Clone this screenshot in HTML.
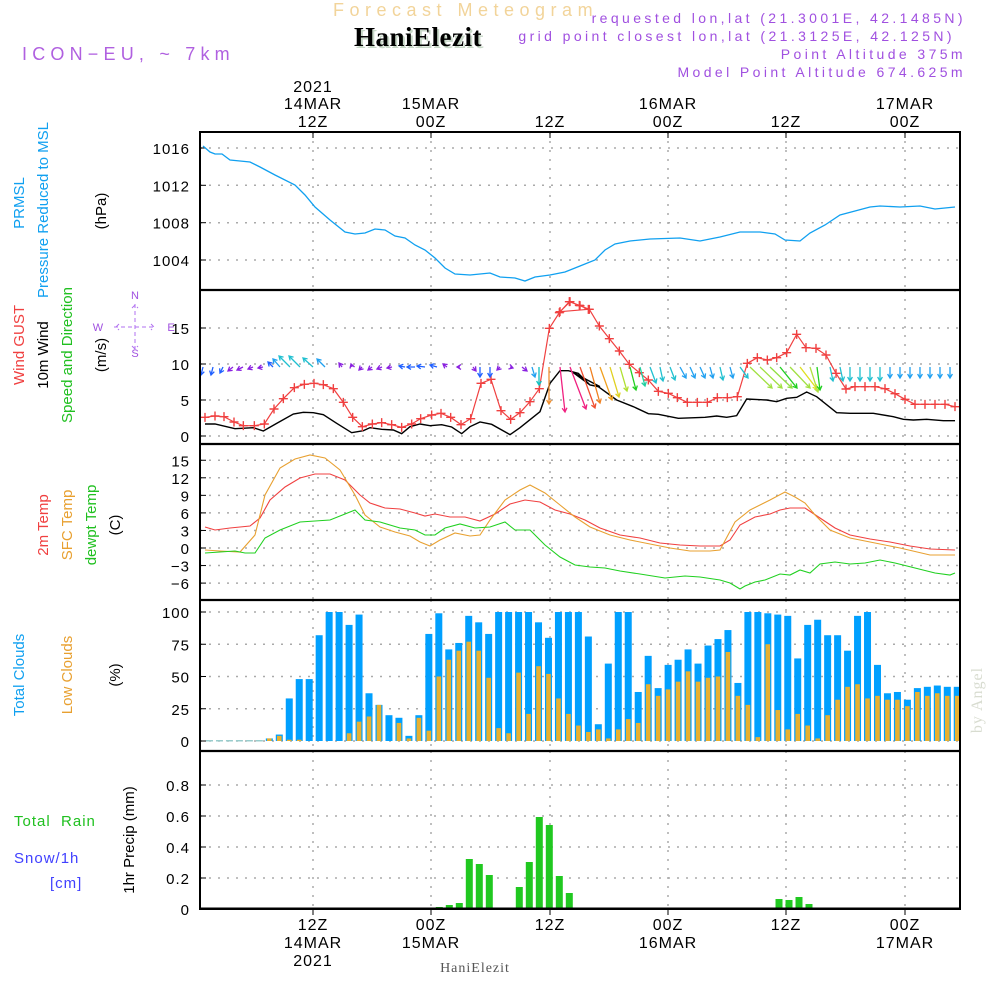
<!DOCTYPE html>
<html><head><meta charset="utf-8"><style>
html,body{margin:0;padding:0;background:#fff;}
svg{display:block;font-family:"Liberation Sans",sans-serif;}
</style></head><body>
<svg id="s" width="1000" height="1000" xmlns="http://www.w3.org/2000/svg">
<text x="333" y="16" fill="#f2d49a" font-size="18" letter-spacing="5.5">Forecast Meteogram</text>
<text x="356" y="48" fill="#c8d8c8" font-size="27" font-weight="bold" font-family="Liberation Serif,serif" letter-spacing="0.5">HaniElezit</text>
<text x="354" y="46" fill="#000" font-size="27" font-weight="bold" font-family="Liberation Serif,serif" letter-spacing="0.5">HaniElezit</text>
<text x="22" y="60" fill="#b060e0" font-size="18" letter-spacing="5.2">ICON−EU, ~ 7km</text>
<g fill="#a050e0" font-size="14" letter-spacing="3.4" text-anchor="end">
<text x="966" y="23">requested lon,lat (21.3001E, 42.1485N)</text>
<text x="955" y="41">grid point closest lon,lat (21.3125E, 42.125N)</text>
<text x="966" y="59">Point Altitude 375m</text>
<text x="966" y="77">Model Point Altitude 674.625m</text>
</g>
<g id="g"></g>
</svg>
<script>
var g=document.getElementById('g'),h='';
function L(pts,c,w,extra){h+='<polyline fill="none" stroke="'+c+'" stroke-width="'+(w||1.2)+'" '+(extra||'')+' points="'+pts.map(function(p){return p[0]+','+p[1]}).join(' ')+'"/>';}
function T(x,y,t,c,s,a,ex){h+='<text x="'+x+'" y="'+y+'" fill="'+(c||'#000')+'" font-size="'+(s||15)+'" text-anchor="'+(a||'middle')+'" '+(ex||'')+'>'+t+'</text>';}
function R(x,y,w,hh,c){h+='<rect x="'+x+'" y="'+y+'" width="'+w+'" height="'+hh+'" fill="'+c+'"/>';}
var VX=[313,431,550,668,786,905];
var panels=[[132,290],[290,444],[444,600],[600,751],[751,909]];
var dot='stroke="#aaa" stroke-width="1.5" stroke-dasharray="2,7"';
panels.forEach(function(p){VX.forEach(function(x){h+='<line x1="'+x+'" y1="'+p[0]+'" x2="'+x+'" y2="'+p[1]+'" '+dot+'/>';});});
function HG(y,lab){h+='<line x1="200" y1="'+y+'" x2="960" y2="'+y+'" '+dot+'/>';T(190,y+6,lab,'#000',15,'end','letter-spacing="1"');h+='<line x1="200" y1="'+y+'" x2="206" y2="'+y+'" stroke="#000"/>';}
[[1004,260],[1008,222.7],[1012,185.3],[1016,148]].forEach(function(a){HG(a[1],a[0]);});
[0,5,10,15].forEach(function(v){HG(436-7.2*v,v);});
[15,12,9,6,3,0,-3,-6].forEach(function(v){HG(548-5.85*v,v<0?'−'+(-v):v);});
[0,25,50,75,100].forEach(function(v){HG(741-1.29*v,v);});
[0,0.2,0.4,0.6,0.8].forEach(function(v){HG(909-155*v,v==0?'0':v.toFixed(1));});
L([[203,146],[210,152],[215,154],[222,154],[230,160],[240,161],[250,162],[260,167],[275,175],[295,185],[305,195],[315,207],[330,220],[345,232],[355,234],[365,233],[375,229],[385,230],[395,236],[405,238],[415,245],[425,250],[435,258],[445,268],[455,274],[470,275],[490,273],[500,277],[515,278],[525,281],[535,277],[550,275],[565,272],[580,266],[595,260],[605,250],[615,244],[630,241],[650,239],[680,238],[700,241],[720,237],[740,232],[760,232],[775,234],[785,240],[800,241],[810,233],[825,225],[840,215],[855,211],[870,207],[880,206],[900,207],[920,206],[935,209],[945,208],[955,207]],'#10a0f0',1.3);
var b1=[[15,402],[45,402],[105,416],[160,413],[190,423],[230,400],[280,372],[310,367],[340,368],[370,374],[410,400],[455,428],[490,422],[510,413],[545,418],[580,420],[605,431],[630,410],[660,402],[690,407],[725,404],[755,411],[785,431],[810,410],[840,396],[875,403],[930,434],[960,413],[990,389],[1020,365],[1050,280],[1080,242],[1105,242],[1135,250],[1170,285],[1200,290]].map(function(p){return[200+p[0]/3,290+p[1]/3]});
var b2=[[40,248],[70,270],[90,285],[115,290],[170,330],[220,350],[265,371],[295,373],[355,385],[435,382],[470,378],[500,382],[530,377],[560,327],[620,330],[650,335],[680,325],[710,322],[740,306],[770,320],[830,368],[870,370],[940,370],[1000,380],[1030,388],[1060,390],[1100,388],[1150,392],[1185,392]].map(function(p){return[560+p[0]/3,290+p[1]/3]});
L(b1.concat(b2),'#000',1.4);
var g1=[[15,382],[45,378],[72,380],[102,396],[130,407],[163,407],[193,402],[222,357],[250,326],[283,293],[313,283],[342,280],[370,284],[400,296],[430,337],[458,382],[487,410],[517,402],[545,398],[575,404],[605,412],[635,402],[662,386],[695,375],[723,370],[752,382],[783,404],[812,386],[843,280],[873,268],[903,362],[932,388],[960,368],[990,335],[1018,296],[1048,115],[1078,68],[1108,35],[1138,46],[1165,58]].map(function(p){return[200+p[0]/3,290+p[1]/3]});
var g2=[[0,65],[30,35],[60,47],[88,58],[118,108],[148,146],[178,183],[208,223],[238,248],[265,270],[295,304],[325,310],[352,323],[382,337],[412,337],[442,337],[472,323],[502,323],[532,320],[562,220],[592,203],[622,210],[650,203],[680,188],[710,133],[738,173],[768,175],[798,195],[828,250],[858,297],[885,290],[915,290],[945,290],[975,296],[1005,311],[1035,328],[1065,343],[1095,343],[1125,343],[1155,343],[1185,350]].map(function(p){return[560+p[0]/3,290+p[1]/3]});
var gp=g1.concat(g2);L(gp,'#f04040',1.2);
gp.forEach(function(p){h+='<path d="M'+(p[0]-4.5)+','+p[1]+'h9M'+p[0]+','+(p[1]-4.5)+'v9" stroke="#f04040" stroke-width="1.4"/>';});
var B='#2060ff',P='#8a20e0',TL='#20c0d0',CB='#20a0f0';
var A=[[203,-2,8,B],[213,-2,8,B],[223,-3,6,B],[233,-5,4,P],[243,-6,3,P],[253,-5,2,P],[263,-5,1,P],[273,-5,-5,B],[280,-7,-8,CB],[290,-11,-11,TL],[300,-11,-11,TL],[313,-10,-9,TL],[325,-8,-8,CB],[342,-3,-4,P],[352,-1,-3,P],[362,-3,3,P],[372,-4,3,P],[382,-5,2,P],[392,-5,1,P],[405,-6,-1,B],[415,-8,0,B],[425,-8,-1,B],[437,-7,-2,B],[447,-4,-3,P],[460,-3,0,P],[473,3,4,P],[480,0,10,B],[490,0,10,B],[500,-3,3,P],[510,3,1,P],[522,5,4,P],[532,3,10,CB],[539,0,18,'#10c0c0'],[549,0,37,'#f09030'],[560,5,45,'#f02080'],[570,16,42,'#f02080'],[580,15,41,'#f05030'],[590,10,36,'#f08020'],[600,12,33,'#f0a020'],[610,9,30,'#e0d020'],[620,7,24,'#b0e030'],[630,6,23,'#20d020'],[640,5,19,'#20d0a0'],[650,6,16,TL],[660,3,14,TL],[670,5,13,TL],[680,6,11,CB],[690,5,11,CB],[700,5,11,CB],[710,3,11,CB],[720,3,13,TL],[730,3,11,CB],[740,8,11,TL],[750,22,21,'#a0e040'],[760,22,21,'#a0e040'],[770,22,21,'#90e040'],[780,17,21,'#20d020'],[790,20,21,'#a0e040'],[800,17,22,'#e0e020'],[810,8,25,'#b0e040'],[817,3,23,'#20d020'],[830,3,14,TL],[840,3,14,TL],[850,0,14,TL],[860,0,14,TL],[870,0,14,TL],[880,0,14,TL],[890,0,11,CB],[900,0,11,CB],[910,0,11,CB],[920,0,11,CB],[930,0,11,CB],[940,0,11,CB],[950,0,11,CB]];
A.forEach(function(a){var x0=a[0],y0=367,x1=x0+a[1],y1=y0+a[2],L2=Math.hypot(a[1],a[2])||1,ux=a[1]/L2,uy=a[2]/L2,s=4;
var hx1=x1-s*ux+s*0.6*uy,hy1=y1-s*uy-s*0.6*ux,hx2=x1-s*ux-s*0.6*uy,hy2=y1-s*uy+s*0.6*ux;
h+='<path d="M'+x0+','+y0+'L'+x1+','+y1+'M'+hx1+','+hy1+'L'+x1+','+y1+'L'+hx2+','+hy2+'" fill="none" stroke="'+a[3]+'" stroke-width="1.3"/>';});
L([[205,527],[215,530],[230,528],[250,526],[260,518],[270,500],[285,487],[300,478],[315,474],[330,474],[345,480],[360,495],[370,503],[385,508],[400,509],[415,513],[425,516],[435,514],[450,517],[465,517],[480,521],[495,514],[510,504],[525,500],[540,502],[555,510],[570,514],[585,520],[600,528],[620,535],[640,538],[660,543],[680,545],[700,546],[720,546],[730,540],[740,525],[755,517],[770,514],[780,510],[790,508],[805,508],[820,518],[835,528],[850,535],[870,539],[890,542],[910,546],[930,549],[955,550]],'#f04040',1.1);
L([[205,550],[220,551],[240,552],[255,535],[265,495],[280,468],[295,459],[310,455],[325,458],[340,470],[355,495],[365,515],[380,527],[395,532],[410,536],[420,542],[430,546],[440,540],[455,533],[470,536],[480,535],[490,520],[505,500],[520,490],[530,485],[545,493],[560,505],[575,517],[590,527],[610,535],[630,540],[650,544],[670,548],[690,551],[710,551],[720,550],[735,522],[750,510],[770,500],[785,492],[795,497],[805,503],[815,515],[830,530],[850,538],[870,542],[900,548],[930,555],[955,555]],'#e8a030',1.1);
L([[205,553],[220,552],[235,551],[245,553],[255,553],[265,538],[280,530],[300,522],[315,521],[330,520],[345,514],[355,510],[365,520],[380,522],[400,528],[415,530],[425,535],[435,535],[445,528],[460,524],[475,528],[490,527],[505,522],[515,530],[530,530],[545,545],[560,557],[575,565],[590,567],[605,568],[620,571],[640,574],[665,578],[685,576],[700,577],[720,580],[730,583],[740,589],[745,586],[755,582],[765,580],[780,574],[790,575],[800,570],[810,573],[820,564],[835,562],[850,564],[865,563],[880,560],[895,563],[915,568],[935,573],[950,575],[955,573]],'#20d020',1.1);
var TC=[0,0,0,0,0,0,2,5,33,48,48,82,100,100,90,98,37,28,20,18,4,20,83,99,71,76,97,92,83,100,100,100,100,92,80,100,100,100,81,13,60,100,100,38,66,41,59,63,71,60,74,79,86,45,100,100,99,98,97,64,90,94,82,82,70,97,100,59,37,38,32,41,42,43,42,42];
var LC=[0,0,0,0,0,0,2,4,1,1,0,0,0,0,6,15,19,28,0,14,2,18,8,50,63,70,77,70,49,10,6,53,21,58,52,33,21,12,7,9,2,9,17,14,44,35,40,46,54,46,49,50,69,35,28,3,75,24,9,21,12,2,20,32,42,44,33,35,32,32,27,38,35,37,35,35];
for(var i=0;i<76;i++){var cx=209.5+9.97*i;var w=(cx+3.5>960)?960-(cx-3.5):7;
if(TC[i]>0)R(cx-3.5,741-1.29*TC[i],w,1.29*TC[i],'#00a0ff');else R(cx-3.5,740,7,1.5,'#9cc');
if(LC[i]>0){var lw=(cx+2.3>960)?960-(cx-2.3):4.6;R(cx-2.3,741-1.29*LC[i],lw,1.29*LC[i],'#e8b030');}}
[[439.3,907],[449.3,905],[459.3,903],[469.3,859],[479.3,864],[489.3,875],[519.3,887],[529.3,862],[539.3,817],[549.3,825],[559.3,876],[569.3,893],[779,899],[789,900],[799,897],[809,904],[419,908],[429,908]].forEach(function(p){R(p[0]-3.5,p[1],7,909-p[1],'#20c820');});
h+='<line x1="200" y1="908.5" x2="960" y2="908.5" stroke="#000" stroke-width="2"/>';
h+='<rect x="200" y="132" width="760" height="777" fill="none" stroke="#000" stroke-width="2"/>';
[290,444,600,751].forEach(function(y){h+='<line x1="200" y1="'+y+'" x2="960" y2="'+y+'" stroke="#000" stroke-width="2.2"/>';});
VX.forEach(function(x){h+='<line x1="'+x+'" y1="132" x2="'+x+'" y2="138" stroke="#000"/><line x1="'+x+'" y1="909" x2="'+x+'" y2="915" stroke="#000"/>';});
var LS='letter-spacing="1"';
T(313,92,'2021','#000',16,'middle',LS);T(313,109,'14MAR','#000',16,'middle',LS);T(313,127,'12Z','#000',16,'middle',LS);T(431,109,'15MAR','#000',16,'middle',LS);T(431,127,'00Z','#000',16,'middle',LS);T(550,127,'12Z','#000',16,'middle',LS);T(668,109,'16MAR','#000',16,'middle',LS);T(668,127,'00Z','#000',16,'middle',LS);T(786,127,'12Z','#000',16,'middle',LS);T(905,109,'17MAR','#000',16,'middle',LS);T(905,127,'00Z','#000',16,'middle',LS);
T(313,930,'12Z','#000',16,'middle',LS);T(313,948,'14MAR','#000',16,'middle',LS);T(313,966,'2021','#000',16,'middle',LS);T(431,930,'00Z','#000',16,'middle',LS);T(431,948,'15MAR','#000',16,'middle',LS);T(550,930,'12Z','#000',16,'middle',LS);T(668,930,'00Z','#000',16,'middle',LS);T(668,948,'16MAR','#000',16,'middle',LS);T(786,930,'12Z','#000',16,'middle',LS);T(905,930,'00Z','#000',16,'middle',LS);T(905,948,'17MAR','#000',16,'middle',LS);
T(475,972,'HaniElezit','#555',14,'middle','font-family="Liberation Serif,serif" letter-spacing="1"');
function RT(x,y,t,c,s){h+='<text transform="translate('+x+','+y+') rotate(-90)" fill="'+c+'" font-size="'+(s||15)+'" text-anchor="middle">'+t+'</text>';}
RT(24,203,'PRMSL','#10a0f0');RT(48,210,'Pressure Reduced to MSL','#10a0f0');RT(106,211,'(hPa)','#000');
RT(24,345,'Wind GUST','#f04040');RT(48,355,'10m Wind','#000');RT(72,355,'Speed and Direction','#20c020');RT(106,355,'(m/s)','#000');
RT(48,525,'2m Temp','#f04040');RT(72,525,'SFC Temp','#e8a030');RT(96,525,'dewpt Temp','#20c020');RT(120,525,'(C)','#000');
RT(24,675,'Total Clouds','#10a0f0');RT(72,675,'Low Clouds','#e8a030');RT(120,675,'(%)','#000');
RT(134,840,'1hr Precip (mm)','#000');
T(14,826,'Total&#160;&#160;Rain','#20c020',15,'start','letter-spacing="1"');T(14,863,'Snow/1h','#4040ff',15,'start','letter-spacing="1"');T(50,888,'[cm]','#4040ff',15,'start','letter-spacing="1"');
h+='<g fill="#a050e0" font-size="11" text-anchor="middle"><text x="135" y="299">N</text><text x="135" y="357">S</text><text x="98" y="331">W</text><text x="171" y="331">E</text></g>';
h+='<path d="M114,327h42M135,304v46M119,324l-3,3 3,3M151,324l3,3-3,3M132,308l3,-3 3,3M132,346l3,3 3,-3" stroke="#b070f0" fill="none" stroke-dasharray="4,3"/>';
h+='<text transform="translate(982,700) rotate(-90)" fill="#d8dcd0" font-size="16" text-anchor="middle" font-family="Liberation Serif,serif" letter-spacing="1">by Angel</text>';
g.innerHTML=h;
</script>
</body></html>
